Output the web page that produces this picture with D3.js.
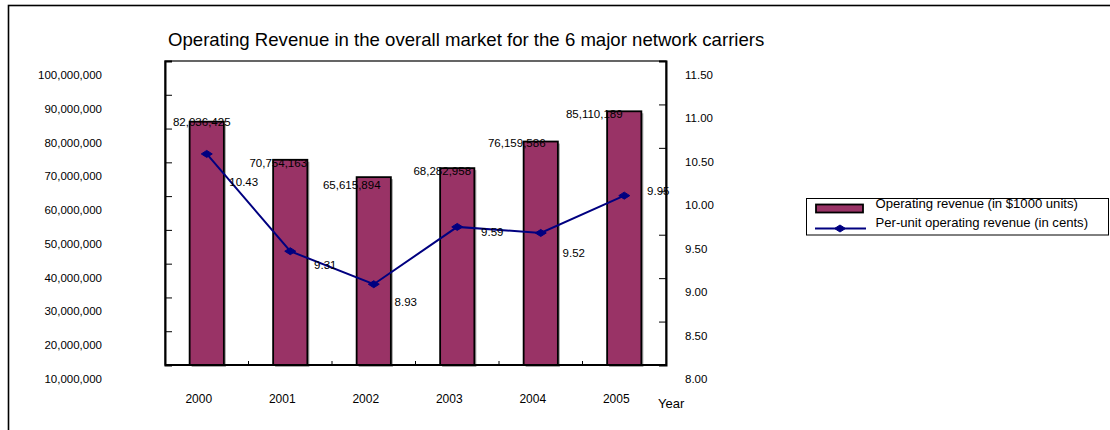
<!DOCTYPE html>
<html>
<head>
<meta charset="utf-8">
<script src="https://cdn.jsdelivr.net/npm/d3@7"></script>
<style>
  html, body { margin: 0; padding: 0; background: #fff; }
  svg { display: block; font-family: "Liberation Sans", Arial, sans-serif; }
</style>
</head>
<body>
<svg id="chart" width="1110" height="430"></svg>
<script>
// Operating revenue of the 6 major network carriers, 2000–2005
const years = ["2000", "2001", "2002", "2003", "2004", "2005"];
const revenue = [82036425, 70754163, 65615894, 68282958, 76159586, 85110189]; // $1000 units
const unitRevenue = [10.43, 9.31, 8.93, 9.59, 9.52, 9.95];                    // cents
const leftTicks = [10000000, 20000000, 30000000, 40000000, 50000000,
                   60000000, 70000000, 80000000, 90000000, 100000000];
const rightTicks = [8.0, 8.5, 9.0, 9.5, 10.0, 10.5, 11.0, 11.5];
const titleText = "Operating Revenue in the overall market for the 6 major network carriers";
const seriesNames = ["Operating revenue (in $1000 units)", "Per-unit operating revenue (in cents)"];

// Hand-placed label nudges (pixels, relative to each mark)
const barLabelNudge = [[-5, 0], [-12, 3], [-22, 8], [-15, 3], [-24, 1], [-30, 3]];
const lineLabelNudge = [[37, 28], [35, 14], [32, 18], [35, 5], [33, 20], [34, -5]];

const svg = d3.select("#chart");
const plot = { left: 165, right: 666, top: 61, bottom: 365 };
const barColor = "#993366";
const lineColor = "#000080";
const fontSize = 11.5;

// Outer chart frame (runs off the right and bottom edges)
svg.append("rect")
  .attr("x", 8.5).attr("y", 5.5)
  .attr("width", 1200).attr("height", 500)
  .attr("fill", "none").attr("stroke", "#000").attr("stroke-width", 1.6);

// Title
svg.append("text")
  .attr("x", 168).attr("y", 46)
  .attr("font-size", 18.6)
  .attr("fill", "#000")
  .text(titleText);

// Scales
const x = d3.scaleBand().domain(years).range([plot.left, plot.right]);
const yLeft = d3.scaleLinear().domain([10000000, 100000000]).range([plot.bottom, plot.top]);
const yRight = d3.scaleLinear().domain([8, 11.5]).range([plot.bottom, plot.top]);
const barW = x.bandwidth() * 0.41;
const cx = i => x(years[i]) + x.bandwidth() / 2;

// Plot area frame
svg.append("rect")
  .attr("x", plot.left).attr("y", plot.top)
  .attr("width", plot.right - plot.left).attr("height", plot.bottom - plot.top)
  .attr("fill", "#fff").attr("stroke", "#000").attr("stroke-width", 1.2);

// Bars with a soft grey drop shadow
const bars = svg.append("g");
bars.selectAll("rect.shadow").data(revenue).join("rect")
  .attr("class", "shadow")
  .attr("x", (d, i) => cx(i) - barW / 2 + 2)
  .attr("y", d => yLeft(d) + 2)
  .attr("width", barW)
  .attr("height", d => plot.bottom - yLeft(d))
  .attr("fill", "#a8a8a8");
bars.selectAll("rect.bar").data(revenue).join("rect")
  .attr("class", "bar")
  .attr("x", (d, i) => cx(i) - barW / 2)
  .attr("y", d => yLeft(d))
  .attr("width", barW)
  .attr("height", d => plot.bottom - yLeft(d))
  .attr("fill", barColor)
  .attr("stroke", "#000").attr("stroke-width", 1.8);

// Left axis: ticks point inward, labels sit a little below their ticks
const leftAxis = d3.axisLeft(yLeft)
  .tickValues(leftTicks)
  .tickSize(-7)
  .tickFormat(d3.format(","));
const gL = svg.append("g").attr("transform", `translate(${plot.left},0)`).call(leftAxis);
gL.select(".domain").attr("stroke", "#000").attr("stroke-width", 2);
gL.selectAll(".tick line").attr("stroke", "#000").attr("stroke-width", 1);
gL.selectAll(".tick text")
  .attr("x", 102 - plot.left).attr("dy", "0")
  .attr("y", 13.5)
  .attr("dominant-baseline", "central")
  .attr("font-size", fontSize).attr("font-family", null).attr("fill", "#000");

// Right axis
const rightAxis = d3.axisRight(yRight)
  .tickValues(rightTicks)
  .tickSize(-7)
  .tickFormat(d3.format(".2f"));
const gR = svg.append("g").attr("transform", `translate(${plot.right},0)`).call(rightAxis);
gR.select(".domain").attr("stroke", "#000").attr("stroke-width", 2);
gR.selectAll(".tick line").attr("stroke", "#000").attr("stroke-width", 1);
gR.selectAll(".tick text")
  .attr("x", 685 - plot.right).attr("dy", "0")
  .attr("y", 13.5)
  .attr("dominant-baseline", "central")
  .attr("text-anchor", "start")
  .attr("font-size", fontSize).attr("font-family", null).attr("fill", "#000");

// Bottom axis: short inward ticks at category boundaries
const gB = svg.append("g").attr("transform", `translate(0,${plot.bottom})`);
gB.append("line")
  .attr("x1", plot.left).attr("x2", plot.right)
  .attr("stroke", "#000").attr("stroke-width", 2);
gB.selectAll("line.sep").data(years.slice(1)).join("line")
  .attr("class", "sep")
  .attr("x1", d => x(d)).attr("x2", d => x(d))
  .attr("y1", 0).attr("y2", -4)
  .attr("stroke", "#000").attr("stroke-width", 1);
gB.selectAll("text.year").data(years).join("text")
  .attr("class", "year")
  .attr("x", d => x(d) + x.bandwidth() / 2 - 8)
  .attr("y", 34)
  .attr("dominant-baseline", "central")
  .attr("text-anchor", "middle")
  .attr("font-size", 12).attr("fill", "#000")
  .text(d => d);
svg.append("text")
  .attr("x", 658).attr("y", 403)
  .attr("dominant-baseline", "central")
  .attr("font-size", 13).attr("fill", "#000")
  .text("Year");

// Per-unit revenue line with diamond markers
const line = d3.line()
  .x((d, i) => cx(i))
  .y(d => yRight(d));
svg.append("path")
  .datum(unitRevenue)
  .attr("d", line)
  .attr("fill", "none")
  .attr("stroke", lineColor).attr("stroke-width", 2);
const diamond = "M-5.5,0L0,-3.5L5.5,0L0,3.5Z";
svg.append("g").selectAll("path").data(unitRevenue).join("path")
  .attr("transform", (d, i) => `translate(${cx(i)},${yRight(d)})`)
  .attr("d", diamond)
  .attr("fill", lineColor).attr("stroke", lineColor).attr("stroke-width", 1);

// Value labels for bars
svg.append("g").selectAll("text").data(revenue).join("text")
  .attr("x", (d, i) => cx(i) + barLabelNudge[i][0])
  .attr("y", (d, i) => yLeft(d) + barLabelNudge[i][1])
  .attr("dominant-baseline", "central")
  .attr("text-anchor", "middle")
  .attr("font-size", fontSize).attr("fill", "#000")
  .text(d => d3.format(",")(d));

// Value labels for the line
svg.append("g").selectAll("text").data(unitRevenue).join("text")
  .attr("x", (d, i) => cx(i) + lineLabelNudge[i][0])
  .attr("y", (d, i) => yRight(d) + lineLabelNudge[i][1])
  .attr("dominant-baseline", "central")
  .attr("text-anchor", "middle")
  .attr("font-size", fontSize).attr("fill", "#000")
  .text(d => d3.format(".2f")(d));

// Legend
const lg = svg.append("g");
lg.append("rect")
  .attr("x", 806.5).attr("y", 198.5)
  .attr("width", 302).attr("height", 36.5)
  .attr("fill", "#fff").attr("stroke", "#000").attr("stroke-width", 1);
lg.append("rect")
  .attr("x", 816).attr("y", 204.5)
  .attr("width", 47).attr("height", 8)
  .attr("fill", barColor).attr("stroke", "#000").attr("stroke-width", 1.8);
lg.append("line")
  .attr("x1", 815).attr("x2", 866)
  .attr("y1", 228.5).attr("y2", 228.5)
  .attr("stroke", lineColor).attr("stroke-width", 2);
lg.append("path")
  .attr("transform", "translate(840,228.5)")
  .attr("d", diamond)
  .attr("fill", lineColor).attr("stroke", lineColor);
lg.selectAll("text").data(seriesNames).join("text")
  .attr("x", 875.5)
  .attr("y", (d, i) => 203.5 + i * 19.3)
  .attr("dominant-baseline", "central")
  .attr("font-size", 13.1).attr("fill", "#000")
  .text(d => d);
</script>
</body>
</html>
